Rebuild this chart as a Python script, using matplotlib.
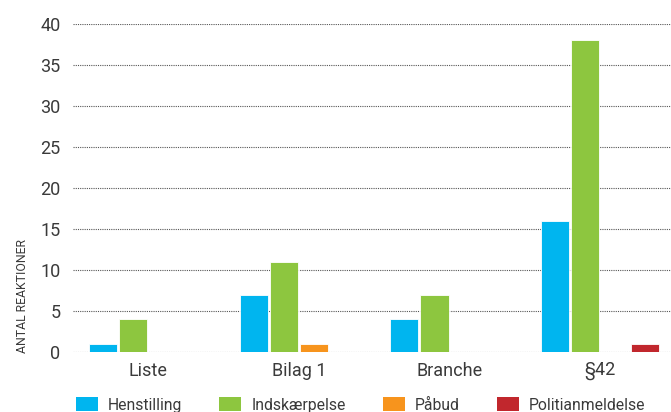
import matplotlib
matplotlib.use("Agg")
import matplotlib.pyplot as plt
import numpy as np
from matplotlib.patches import Patch

categories = ["Liste", "Bilag 1", "Branche", "§42"]
series_names = ["Henstilling", "Indskærpelse", "Påbud", "Politianmeldelse"]
henstilling = [1, 7, 4, 16]
indskaerpelse = [4, 11, 7, 38]
paabud = [0, 1, 0, 0]
politianmeldelse = [0, 0, 0, 1]
series_values = [henstilling, indskaerpelse, paabud, politianmeldelse]
colors = ["#00B5EF", "#8DC63F", "#F7941D", "#C1272D"]
yticks = [0, 5, 10, 15, 20, 25, 30, 35, 40]

plt.rcParams['font.family'] = ['Roboto', 'DejaVu Sans']
text_color = "#3a3a3a"

fig = plt.figure(figsize=(6.71, 4.12), dpi=100)
ax = fig.add_axes([73/671, 60/412, 598/671, 328/412])

x = np.arange(len(categories))
step = 0.2
width = 0.187
for i, (vals, col) in enumerate(zip(series_values, colors)):
    ax.bar(x + (i - 1.5) * step, vals, width=width, color=col, zorder=3,
           edgecolor='white', linewidth=0.6)

ax.set_xlim(-0.5, 3.47)
ax.set_ylim(0, 40)
ax.set_yticks(yticks)
ax.set_yticklabels([str(t) for t in yticks])
ax.set_xticks(x)
ax.set_xticklabels(categories)
ax.tick_params(axis='both', length=0, labelsize=13, colors=text_color)
ax.tick_params(axis='y', pad=9)
ax.tick_params(axis='x', pad=7)
for s in ax.spines.values():
    s.set_visible(False)
ax.yaxis.grid(True, linestyle=(0, (1, 1)), color="#555555", linewidth=0.8, zorder=0)
ax.set_axisbelow(True)

fig.text(23/671, (412-353)/412, "ANTAL REAKTIONER", rotation=90, va='bottom', ha='center',
         fontsize=8.8, color=text_color)

handles = [Patch(facecolor=c, edgecolor='none') for c in colors]
leg = fig.legend(handles, series_names, loc='center left', bbox_to_anchor=(76/671, 7/412),
                 ncol=4, frameon=False, fontsize=11.3, handlelength=1.4, handleheight=1.0,
                 handletextpad=0.65, columnspacing=2.35, labelcolor=text_color,
                 borderaxespad=0, borderpad=0)

fig.savefig("out.png", dpi=100)
